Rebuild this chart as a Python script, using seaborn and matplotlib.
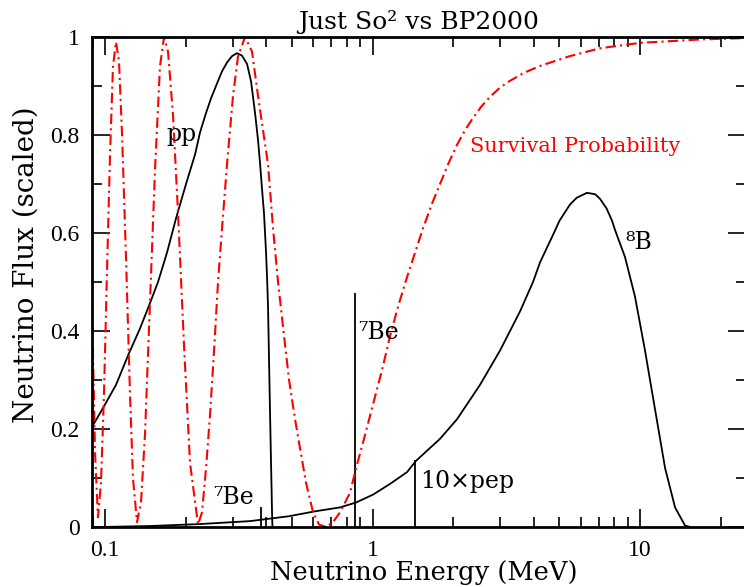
import numpy as np
import matplotlib
matplotlib.use('Agg')
import matplotlib.pyplot as plt
from matplotlib.ticker import LogLocator, MultipleLocator, NullFormatter, FixedLocator, FixedFormatter
import seaborn as sns

sns.set_style('ticks')
plt.rcParams.update({'text.color': 'black', 'axes.labelcolor': 'black',
                     'xtick.color': 'black', 'ytick.color': 'black'})

# pp spectrum (scaled), energy in MeV
PP_E = [0.0894, 0.1, 0.1099, 0.1219, 0.1351, 0.1473, 0.1578, 0.1705, 0.1843, 0.2008,
        0.2170, 0.2265, 0.2386, 0.2491, 0.2622, 0.2738, 0.2858, 0.2984, 0.3114, 0.3251,
        0.3396, 0.3514, 0.3638, 0.3732, 0.3797, 0.3863, 0.3930, 0.3999, 0.4034, 0.4068,
        0.4140, 0.4175, 0.4211, 0.4225]
PP_F = [0.204, 0.25, 0.29, 0.35, 0.405, 0.457, 0.50, 0.56, 0.63, 0.70,
        0.76, 0.805, 0.845, 0.875, 0.905, 0.93, 0.948, 0.961, 0.967, 0.962,
        0.945, 0.91, 0.845, 0.79, 0.743, 0.69, 0.64, 0.56, 0.51, 0.45,
        0.23, 0.13, 0.03, 0.0]

# 8B spectrum (scaled)
B8_E = [0.0958, 0.1473, 0.2265, 0.3484, 0.4875, 0.6098, 0.7560, 0.8677, 1.004, 1.163,
        1.346, 1.454, 1.788, 2.070, 2.522, 2.996, 3.560, 3.981, 4.228, 4.812,
        5.0, 5.47, 5.8, 6.336, 6.8, 7.08, 7.5, 7.860, 8.066, 8.787,
        9.579, 10.44, 11.38, 12.41, 13.52, 14.73, 15.38]
B8_F = [0.0, 0.002, 0.006, 0.012, 0.022, 0.032, 0.040, 0.050, 0.066, 0.088,
        0.112, 0.135, 0.18, 0.22, 0.29, 0.36, 0.44, 0.50, 0.54, 0.605,
        0.625, 0.658, 0.672, 0.682, 0.679, 0.67, 0.65, 0.625, 0.606, 0.551,
        0.47, 0.36, 0.24, 0.12, 0.04, 0.003, 0.0]

# line sources: 7Be (0.384, 0.862) and 10 x pep
LINE_E = [0.384, 0.862, 1.442]
LINE_F = [0.041, 0.478, 0.137]

# survival probability, Just So^2
SP_E = [0.0879, 0.0894, 0.0918, 0.0941, 0.0966, 0.0991, 0.1017, 0.1044, 0.1071, 0.1099,
        0.1128, 0.1158, 0.1198, 0.1240, 0.1272, 0.1317, 0.1363, 0.1411, 0.1473, 0.1538,
        0.1605, 0.1662, 0.1720, 0.1796, 0.1875, 0.1974, 0.2079, 0.2227, 0.2305, 0.2386,
        0.2470, 0.2556, 0.2645, 0.2738, 0.2858, 0.3010, 0.3141, 0.3338, 0.3545, 0.3732,
        0.3896, 0.4068, 0.4247, 0.4434, 0.4669, 0.4875, 0.5133, 0.5359, 0.5643, 0.5994,
        0.6310, 0.6702, 0.7118, 0.7560, 0.8240, 0.8677, 0.9294, 1.004, 1.085, 1.163,
        1.246, 1.346, 1.442, 1.545, 1.669, 1.788, 1.915, 2.070, 2.218, 2.376,
        2.55, 2.750, 2.96, 3.183, 3.653, 4.228, 5.47, 7.08, 10.0, 16.8, 25.8]
SP_P = [0.62, 0.45, 0.15, 0.02, 0.09, 0.27, 0.52, 0.76, 0.94, 0.99,
        0.95, 0.80, 0.55, 0.27, 0.10, 0.01, 0.05, 0.19, 0.46, 0.73,
        0.94, 1.0, 0.97, 0.84, 0.64, 0.37, 0.13, 0.005, 0.03, 0.12,
        0.23, 0.36, 0.50, 0.61, 0.74, 0.88, 0.96, 1.0, 0.97, 0.88,
        0.81, 0.74, 0.61, 0.50, 0.39, 0.30, 0.22, 0.16, 0.09, 0.03,
        0.005, 0.0, 0.01, 0.03, 0.07, 0.12, 0.18, 0.25, 0.32, 0.39,
        0.45, 0.51, 0.56, 0.61, 0.66, 0.70, 0.74, 0.78, 0.81, 0.835,
        0.858, 0.878, 0.894, 0.907, 0.926, 0.941, 0.961, 0.977, 0.988, 0.995, 0.998]

X_TICKS = [0.1, 1, 10]
X_TICK_LABELS = ['0.1', '1', '10']
Y_TICKS = [0, 0.2, 0.4, 0.6, 0.8, 1.0]
Y_TICK_LABELS = ['0', '0.2', '0.4', '0.6', '0.8', '1']

W, H = 744, 587
fig = plt.figure(figsize=(W / 100, H / 100), dpi=100)
ax = fig.add_axes([92 / W, (H - 527) / H, 654 / W, 490 / H])

sns.lineplot(x=PP_E, y=PP_F, ax=ax, color='black', lw=1.3, sort=False, estimator=None)
sns.lineplot(x=B8_E, y=B8_F, ax=ax, color='black', lw=1.3, sort=False, estimator=None)
ax.vlines(LINE_E, 0, LINE_F, color='black', lw=1.3)
sns.lineplot(x=SP_E, y=SP_P, ax=ax, color='red', lw=1.5, sort=False, estimator=None,
             linestyle=(0, (5, 2, 1, 2)))

ax.set_xscale('log')
ax.set_xlim(0.0894, 24.9)
ax.set_ylim(0, 1)

ax.xaxis.set_major_locator(FixedLocator(X_TICKS))
ax.xaxis.set_major_formatter(FixedFormatter(X_TICK_LABELS))
ax.xaxis.set_minor_locator(LogLocator(base=10, subs=np.arange(2, 10)))
ax.xaxis.set_minor_formatter(NullFormatter())
ax.yaxis.set_major_locator(FixedLocator(Y_TICKS))
ax.yaxis.set_major_formatter(FixedFormatter(Y_TICK_LABELS))
ax.yaxis.set_minor_locator(MultipleLocator(0.1))

ax.tick_params(which='both', direction='in', top=True, right=True, width=1.2, color='black')
ax.tick_params(which='major', length=13, labelsize=17, pad=9)
ax.tick_params(which='minor', length=7)
for lab in ax.get_xticklabels() + ax.get_yticklabels():
    lab.set_fontfamily('Liberation Serif')
for sp in ax.spines.values():
    sp.set_linewidth(2)
    sp.set_color('black')

serif = 'DejaVu Serif'
ax.set_title('Just So\u00b2 vs BP2000', fontsize=18, family=serif, pad=6)
ax.set_xlabel('Neutrino Energy (MeV)', fontsize=18.5, family=serif)
ax.xaxis.set_label_coords(0.507, -0.068)
ax.set_ylabel('Neutrino Flux (scaled)', fontsize=20, family=serif, va='center')
ax.yaxis.set_label_coords(-0.1, 0.535)

ax.text(0.169, 0.80, 'pp', fontsize=17, family=serif, va='center', ha='left')
ax.text(8.8, 0.58, '\u2078B', fontsize=17, family=serif, va='center', ha='left')
ax.text(0.883, 0.396, '\u2077Be', fontsize=17, family=serif, va='center', ha='left')
ax.text(0.2534, 0.061, '\u2077Be', fontsize=17, family=serif, va='center', ha='left')
ax.text(1.505, 0.092, '10\u00d7pep', fontsize=17, family=serif, va='center', ha='left')
ax.text(2.314, 0.776, 'Survival Probability', fontsize=15, family=serif, color='red',
        va='center', ha='left')

fig.savefig('out.png', dpi=100)
